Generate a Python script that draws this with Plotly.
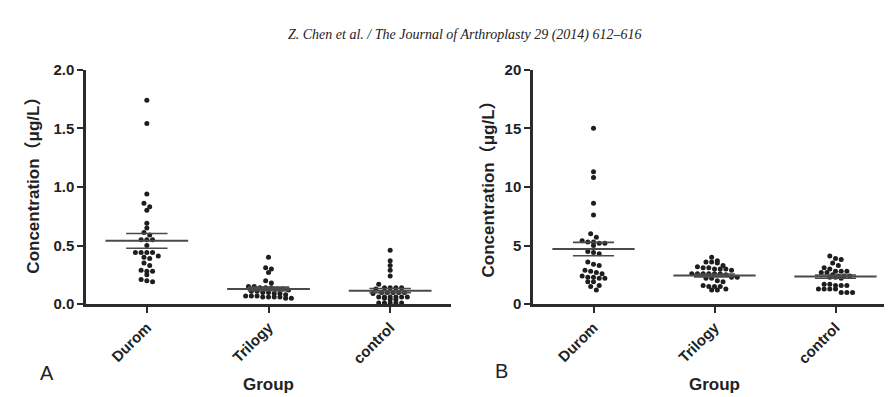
import plotly.graph_objects as go

W, H = 892, 397

groups = ["Durom", "Trilogy", "control"]

# Panel A values (µg/L)
a_durom = [1.74, 1.54, 0.94, 0.86, 0.83, 0.80, 0.69, 0.65, 0.61, 0.59, 0.55, 0.55, 0.55,
           0.50, 0.44, 0.44, 0.44, 0.44, 0.41, 0.40, 0.39, 0.35, 0.33, 0.29, 0.28, 0.28,
           0.25, 0.21, 0.20, 0.19]
a_trilogy = [0.40, 0.31, 0.30, 0.27, 0.20, 0.18, 0.15, 0.15, 0.14, 0.14, 0.14, 0.13, 0.13,
             0.12, 0.11, 0.11, 0.10, 0.10, 0.09, 0.09, 0.08, 0.07, 0.07, 0.07, 0.06, 0.06,
             0.06, 0.06, 0.05, 0.05]
a_control = [0.46, 0.37, 0.33, 0.29, 0.24, 0.17, 0.14, 0.14, 0.14, 0.14, 0.13, 0.10, 0.10,
             0.10, 0.10, 0.10, 0.09, 0.06, 0.06, 0.06, 0.06, 0.06, 0.06, 0.05, 0.04, 0.04,
             0.01, 0.01, 0.01, 0.01, 0.01]
a_mean = [0.54, 0.13, 0.115]
a_sem = [0.063, 0.015, 0.018]

# Panel B values (µg/L)
b_durom = [15.0, 11.3, 10.8, 8.6, 7.6, 6.0, 5.7, 5.4, 5.3, 5.3, 5.2, 5.2, 5.0, 4.5, 4.4,
           4.3, 3.6, 3.4, 3.3, 2.9, 2.8, 2.7, 2.6, 2.4, 2.3, 2.3, 2.2, 2.2, 1.9, 1.9, 1.6,
           1.5, 1.2]
b_trilogy = [4.0, 3.7, 3.6, 3.6, 3.5, 3.3, 3.2, 3.1, 3.1, 3.0, 3.0, 3.0, 2.9, 2.6, 2.6,
             2.6, 2.6, 2.6, 2.6, 2.5, 2.3, 2.3, 2.2, 2.2, 2.0, 1.9, 1.6, 1.5, 1.5, 1.5,
             1.3, 1.2, 1.2]
b_control = [4.1, 3.9, 3.8, 3.5, 3.3, 3.1, 3.0, 2.8, 2.8, 2.8, 2.7, 2.7, 2.5, 2.4, 2.4,
             2.4, 2.3, 2.3, 2.2, 1.7, 1.7, 1.6, 1.6, 1.6, 1.3, 1.3, 1.3, 1.3, 1.0, 1.0, 1.0]
b_mean = [4.7, 2.45, 2.35]
b_sem = [0.57, 0.12, 0.14]

a_ticks = [0.0, 0.5, 1.0, 1.5, 2.0]
a_ticktext = ["0.0", "0.5", "1.0", "1.5", "2.0"]
b_ticks = [0, 5, 10, 15, 20]
b_ticktext = ["0", "5", "10", "15", "20"]

DOT = "#1e1e1e"
AX = "#2b2b2b"
LINE = "#4a4a4a"


def swarm(values, binsize, d=0.047):
    vals = sorted(values, reverse=True)
    bins = []
    for v in vals:
        if bins and bins[-1][0] - v <= binsize:
            bins[-1].append(v)
        else:
            bins.append([v])
    xs, ys = [], []
    for b in bins:
        n = len(b)
        for i, v in enumerate(b):
            xs.append((i - (n - 1) / 2) * d)
            ys.append(v)
    return xs, ys


fig = go.Figure()


def add_panel(data, means, sems, binsize, xa, ya):
    for gi, vals in enumerate(data):
        dx, ys = swarm(vals, binsize)
        fig.add_trace(go.Scatter(
            x=[gi + v for v in dx], y=ys, mode="markers",
            marker=dict(color=DOT, size=5, line=dict(width=0)),
            xaxis=xa, yaxis=ya, showlegend=False, hoverinfo="skip"))
        m, s = means[gi], sems[gi]
        fig.add_trace(go.Scatter(
            x=[gi - 0.34, gi + 0.34], y=[m, m], mode="lines",
            line=dict(color=LINE, width=2), xaxis=xa, yaxis=ya,
            showlegend=False, hoverinfo="skip"))
        for yy in (m - s, m + s):
            fig.add_trace(go.Scatter(
                x=[gi - 0.17, gi + 0.17], y=[yy, yy], mode="lines",
                line=dict(color=LINE, width=1.6), xaxis=xa, yaxis=ya,
                showlegend=False, hoverinfo="skip"))


add_panel([a_durom, a_trilogy, a_control], a_mean, a_sem, 0.037, "x", "y")
add_panel([b_durom, b_trilogy, b_control], b_mean, b_sem, 0.37, "x2", "y2")

ydom = [1 - 300 / H, 1 - 55 / H]
tickfont = dict(family="Liberation Sans, Arial, sans-serif", size=15, color="#222")
xfont = dict(family="Liberation Sans, Arial, sans-serif", size=15, color="#222")

common_x = dict(
    range=[-0.5, 2.5], tickmode="array", tickvals=[0, 1, 2],
    ticktext=["<b>%s</b>" % g for g in groups], tickangle=-45,
    showline=True, linecolor=AX, linewidth=2.5, ticks="outside",
    ticklen=6, tickwidth=2, tickcolor=AX, showgrid=False, zeroline=False,
    tickfont=xfont, fixedrange=True)
common_y = dict(
    showline=True, linecolor=AX, linewidth=2.5, ticks="outside",
    ticklen=6, tickwidth=2, tickcolor=AX, showgrid=False, zeroline=False,
    tickfont=tickfont, tickmode="array", fixedrange=True)

fig.update_layout(
    width=W, height=H, margin=dict(l=0, r=0, t=0, b=0),
    paper_bgcolor="white", plot_bgcolor="white",
    xaxis=dict(domain=[78 / W, 443 / W], anchor="y", **common_x),
    yaxis=dict(domain=ydom, anchor="x", range=[0, 2.0],
               tickvals=a_ticks, ticktext=["<b>%s</b>" % t for t in a_ticktext], **common_y),
    xaxis2=dict(domain=[525 / W, 888 / W], anchor="y2", **common_x),
    yaxis2=dict(domain=ydom, anchor="x2", range=[0, 20],
                tickvals=b_ticks, ticktext=["<b>%s</b>" % t for t in b_ticktext], **common_y),
)

ann = []


def px(x, y):
    return x / W, 1 - y / H


def add_text(x, y, text, size, bold=False, angle=0, family="Liberation Sans, Arial, sans-serif", italic=False):
    xx, yy = px(x, y)
    t = text
    if bold:
        t = "<b>%s</b>" % t
    if italic:
        t = "<i>%s</i>" % t
    ann.append(dict(x=xx, y=yy, xref="paper", yref="paper", text=t, showarrow=False,
                    textangle=angle, xanchor="center", yanchor="middle",
                    font=dict(family=family, size=size, color="#222")))


add_text(457, 19, "Z. Chen et al. / The Journal of Arthroplasty 29 (2014) 612–616", 14,
         family="Liberation Serif, Times New Roman, serif", italic=True)
add_text(26, 172, "Concentration（μg/L）", 17, bold=True, angle=-90,
         family="Liberation Sans, Arial, Noto Sans CJK SC, sans-serif")
add_text(481, 175, "Concentration（μg/L）", 17, bold=True, angle=-90,
         family="Liberation Sans, Arial, Noto Sans CJK SC, sans-serif")
add_text(260, 384, "Group", 17, bold=True)
add_text(706, 384, "Group", 17, bold=True)
add_text(39, 372, "A", 20)
add_text(493, 370, "B", 20)

fig.update_layout(annotations=ann)

fig.write_html("out.html")
